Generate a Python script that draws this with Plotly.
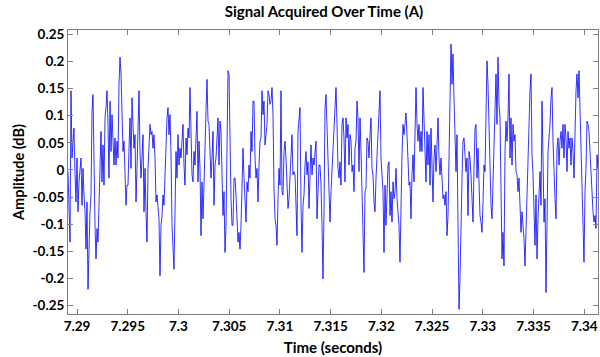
import numpy as np
import plotly.graph_objects as go

# ---- data (amplitude in milli-units) ----
T_START = 7.289113          # seconds, first sample
SAMPLE_RATE = 10146.0       # samples per second

amp_seg1 = [-3, -102, -133, 146, 22, 53, 77, -9, -59, 22, -77, -22, 3, 22, -65, 3, -46, -77, -146, -59,
            -220, -133, -77, -46, 108, 139, -28, -102, -164, -108, -133, -77, 3, 71, -22, 46, -28, 96, 115, 146,
            84, -15, 127, 34, 102, 28, 9, 59, 9, 53, 22, 158, 208, 177, 84, 34, 53, -40, -65, -28,
            -28, 40, 96, 3, 133, 84, 40, 65, -59, 3, 65, 146, 34, -15, 22, 65, -77]
amp_seg2 = [3, -77, -133, 3, 59, 84, 65, 71, 40, 65, 22, -59, -46, -77, -90, -195, -102, -84, -46, -65,
            3, 65, 96, 115, 65, 102, 28, -102, -133, -183, -77, 34, -15, 65, 9, 40, 22, 65, 84, 9,
            -28, 59, 28, 77, 59, 152, 77, -9, -22, 34, 9, 84, 108, -22, 53, 3, -121, -22, -90, -28,
            59, 108, 167, 90, 84, 34, -15, 22, 71, -65, 9, 22, 59, 96, 9, 90, 71, -15, -84, -40,
            -152, -102, 3, 183, 177, 40, -53, -102, -102, -15]
amp_seg3 = [-15, -46, -84, -133, -115, -146, -102, -3, 40, -15, -77, -96, -22, -40, 9, -15, 71, 34, 127, 127,
            22, -15, 3, -59, 9, 53, 59, 146, 102, 127, 46, 71, 84, 146, 139, 121, 127, 152, 102, -34,
            -90, -102, -139, -53, 3, -28, 146, -40, -46, 34, 53, 22, -15, -71, -53, -15, 46, 65, -9, -3,
            -9, -77, -121, 71, 90, 115, -65, -152, -65, -46, 9, 34, -9, 15, -71, -28, 46, -9, 22, 9,
            34, 53, -90, -40, 9, 9, -28, -102, -201, -77]
amp_seg4 = [115, 139, 71, 3, -46, -96, -40, -3, 46, 84, 115, 152, 84, 3, -15, 15, -28, 84, 96, 59,
            -22, 96, 59, 84, 9, 65, 53, -3, 9, -40, 40, 53, 127, 96, -3, 96, 34, -77, -115, -189,
            -40, -34, 59, 53, 22, 65, 96, 3, -9, -59, -77, -15, 34, 84, 115, 146, 22, -15, -40, -152,
            -28, -102, -34, 9, 15, -84, -40, -96, -22, -53, -40, 3, -53, -84, -102, -170, -40, 28, 84, 65,
            84, 105, 65, 3, -28, -22, -90, -9, 28, -22]
amp_seg5 = [108, 152, 84, 53, 84, 34, 71, 34, 152, 84, 22, -22, 71, 9, 65, -28, 77, 22, -59, 22,
            46, -3, 34, 96, 22, -9, 22, -28, -53, -46, -65, -40, -121, -84, 34, 77, 232, 158, 214, 133,
            71, -3, 65, -96, -257, -201, -71, -15, 53, 59, 28, -3, 22, -84, 34, 22, -9, -65, -96, 3,
            77, 84, -15, 40, -28, -84, -96, -115, -59, 9, -3, 102, 201, 158, 84, -9, -65, -90, -15, 77,
            139, 177, 84, 208, 121, 96, -34, -164, -115, -177]
amp_seg6 = [34, 90, 53, 96, 177, 22, 96, 9, 84, 53, 65, -3, -9, -40, -15, -59, -115, -77, -102, -127,
            -177, -108, -40, 53, 102, 146, 177, 28, -9, -65, -139, -46, -164, -90, -28, -3, -65, 127, 22, -96,
            -53, -226, -102, 34, 59, 84, 133, 152, 53, -15, -53, -90, 40, 59, 9, 53, 71, 40, 84, 22,
            84, 59, -3, 71, 40, 59, 9, 59, 34, -15, 84, 146, 177, 133, 183, 115, 59, -3, -90, -170,
            -40, 3, 90, 84, 71, 34, -15, -53, -77, -96, -84, -108, 28, 3, 65, 46]

x_tick_vals = [7.29, 7.295, 7.30, 7.305, 7.31, 7.315, 7.32, 7.325, 7.33, 7.335, 7.34]
x_tick_text = ["7.29", "7.295", "7.3", "7.305", "7.31", "7.315", "7.32", "7.325", "7.33", "7.335", "7.34"]
y_tick_vals = [-0.25, -0.2, -0.15, -0.1, -0.05, 0, 0.05, 0.1, 0.15, 0.2, 0.25]
y_tick_text = ["-0.25", "-0.2", "-0.15", "-0.1", "-0.05", "0", "0.05", "0.1", "0.15", "0.2", "0.25"]

# ---- build series ----
amp_milli = amp_seg1 + amp_seg2 + amp_seg3 + amp_seg4 + amp_seg5 + amp_seg6
amplitude = np.array(amp_milli, dtype=float) / 1000.0
time = T_START + np.arange(len(amplitude)) / SAMPLE_RATE

FONT = "Lato"
AXIS_GREY = "#808080"

fig = go.Figure()
fig.add_trace(go.Scatter(x=time, y=amplitude, mode="lines",
                         line=dict(color="#0000ff", width=0.8),
                         hoverinfo="skip", showlegend=False))

axis_common = dict(showline=True, linecolor=AXIS_GREY, linewidth=1, mirror="ticks",
                   ticks="inside", ticklen=5, tickcolor=AXIS_GREY, tickwidth=1,
                   showgrid=False, zeroline=False,
                   tickfont=dict(family=FONT, size=13.5, color="#000000", weight="bold"))

fig.update_xaxes(range=[7.289113, 7.34135], tickvals=x_tick_vals, ticktext=x_tick_text,
                 title=dict(text="Time (seconds)", font=dict(family=FONT, size=15, color="#000000", weight="bold"),
                            standoff=9),
                 **axis_common)
fig.update_yaxes(range=[-0.2655, 0.258], tickvals=y_tick_vals, ticktext=y_tick_text,
                 title=dict(text="Amplitude (dB)", font=dict(family=FONT, size=14.5, color="#000000", weight="bold"),
                            standoff=4),
                 **axis_common)

fig.update_layout(
    width=600, height=357,
    margin=dict(l=68, r=2, t=30, b=43),
    paper_bgcolor="white", plot_bgcolor="white",
    title=dict(text="Signal Acquired Over Time (A)", x=0.483, xref="paper", xanchor="center",
               y=1 - 12 / 357, yref="container", yanchor="middle",
               font=dict(family=FONT, size=15, color="#000000", weight="bold")),
)

fig.write_html("out.html")
